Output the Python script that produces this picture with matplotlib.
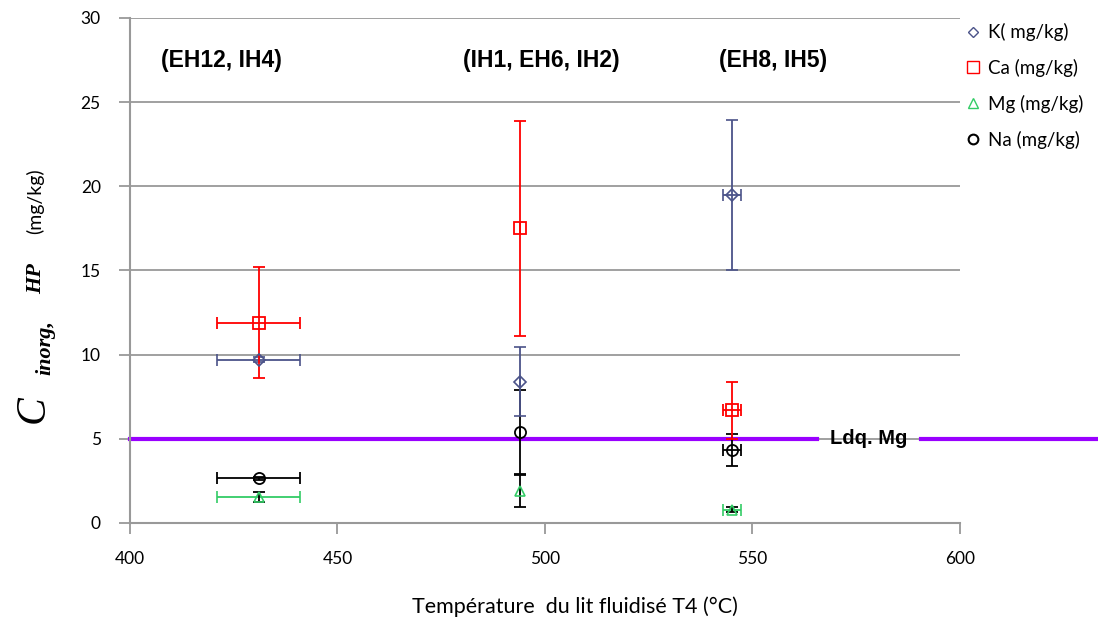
import numpy as np
import matplotlib
matplotlib.use('Agg')
import matplotlib.pyplot as plt
from matplotlib.lines import Line2D

# temperatures of the three groups (°C)
temp = [431, 494, 545]
temp_err = [10, 0, 2.2]
groups = ['(EH12, IH4)', '(IH1, EH6, IH2)', '(EH8, IH5)']
group_x = [422, 499, 555]

# concentrations (mg/kg)
K = [9.7, 8.4, 19.5]
K_err = [0.15, 2.05, 4.45]
Ca = [11.9, 17.5, 6.7]
Ca_err = [3.3, 6.4, 1.7]
Mg = [1.55, 1.9, 0.8]
Mg_err = [0.3, 0.95, 0.15]
Na = [2.65, 5.4, 4.35]
Na_err = [0.1, 2.5, 0.95]
Ldq_Mg = 5

c_K = '#4b5389'
c_Ca = '#ff0000'
c_Mg = '#33cc66'
c_Na = '#000000'

plt.rcParams['font.family'] = ['Lato', 'DejaVu Sans']

fig = plt.figure(figsize=(10.98, 6.2), dpi=100)
ax = fig.add_axes([0.1184, 0.1565, 0.8743 - 0.1184, 0.971 - 0.1565])

# Ldq line (runs past the axes on the right)
ax.plot([400, 565.5], [Ldq_Mg, Ldq_Mg], color='#9900ff', lw=3, clip_on=False, zorder=2)
ax.plot([590.6, 633], [Ldq_Mg, Ldq_Mg], color='#9900ff', lw=3, clip_on=False, zorder=2)
ax.text(578, Ldq_Mg, 'Ldq. Mg', fontsize=14.5, fontweight='bold', family='Liberation Sans',
        ha='center', va='center')

kw = dict(capsize=4, elinewidth=1.3, capthick=1.3, linestyle='none', mfc='none', zorder=3)
ax.errorbar(temp, Mg, xerr=temp_err, fmt='^', color=c_Mg, ms=7, mew=1.2, **kw)
ax.errorbar(temp, Mg, yerr=Mg_err, fmt='none', ecolor='black', capsize=4, elinewidth=1.3,
            capthick=1.3, zorder=3)
ax.errorbar(temp, Na, xerr=temp_err, yerr=Na_err, fmt='o', color=c_Na, ms=8, mew=1.3, **kw)
ax.errorbar(temp, K, xerr=temp_err, yerr=K_err, fmt='D', color=c_K, ms=6, mew=1.2, **kw)
ax.errorbar(temp, Ca, xerr=temp_err, yerr=Ca_err, fmt='s', color=c_Ca, ms=9, mew=1.3, **kw)

for gx, g in zip(group_x, groups):
    ax.text(gx, 27.5, g, fontsize=16.5, fontweight='bold', family='Liberation Sans',
            ha='center', va='center')

ax.set_xlim(400, 600)
ax.set_ylim(0, 30)
ax.set_xticks([400, 450, 500, 550, 600])
ax.set_yticks(np.arange(0, 31, 5))
ax.yaxis.grid(True, color='#999999', lw=1.3)
ax.set_axisbelow(True)
for s in ['top', 'right']:
    ax.spines[s].set_visible(False)
for s in ['left', 'bottom']:
    ax.spines[s].set_color('#999999')
    ax.spines[s].set_linewidth(1.5)
ax.tick_params(axis='y', length=8, width=1.3, color='#999999', labelsize=12.5, pad=13)
ax.tick_params(axis='x', length=8, width=1.3, color='#999999', labelsize=12.5, pad=12)

# legend
handles = [Line2D([], [], marker='D', ms=5, mfc='none', mec=c_K, ls='none'),
           Line2D([], [], marker='s', ms=8, mfc='none', mec=c_Ca, ls='none'),
           Line2D([], [], marker='^', ms=7, mfc='none', mec=c_Mg, ls='none'),
           Line2D([], [], marker='o', ms=7, mfc='none', mec=c_Na, mew=1.5, ls='none')]
labels = ['K( mg/kg)', 'Ca (mg/kg)', 'Mg (mg/kg)', 'Na (mg/kg)']
fig.legend(handles, labels, loc='upper left', bbox_to_anchor=(0.866, 0.99), frameon=False,
           handlelength=0.6, handletextpad=0.5, labelspacing=0.95, fontsize=13.5)

# x label
fig.text(0.524, 0.021, 'Température  du lit fluidisé T4 (°C)', fontsize=15.5, ha='center', va='center')

# y label pieces
fig.text(0.030, 0.34, 'C', family='Liberation Serif', style='italic', fontsize=30,
         rotation=90, ha='center', va='center')
fig.text(0.041, 0.44, 'inorg,', family='Liberation Serif', style='italic', fontweight='bold',
         fontsize=16, rotation=90, ha='center', va='center')
fig.text(0.033, 0.55, 'HP', family='Liberation Serif', style='italic', fontweight='bold',
         fontsize=16, rotation=90, ha='center', va='center')
fig.text(0.032, 0.675, '(mg/kg)', fontsize=14, rotation=90, ha='center', va='center')

fig.savefig('out.png', dpi=100)
